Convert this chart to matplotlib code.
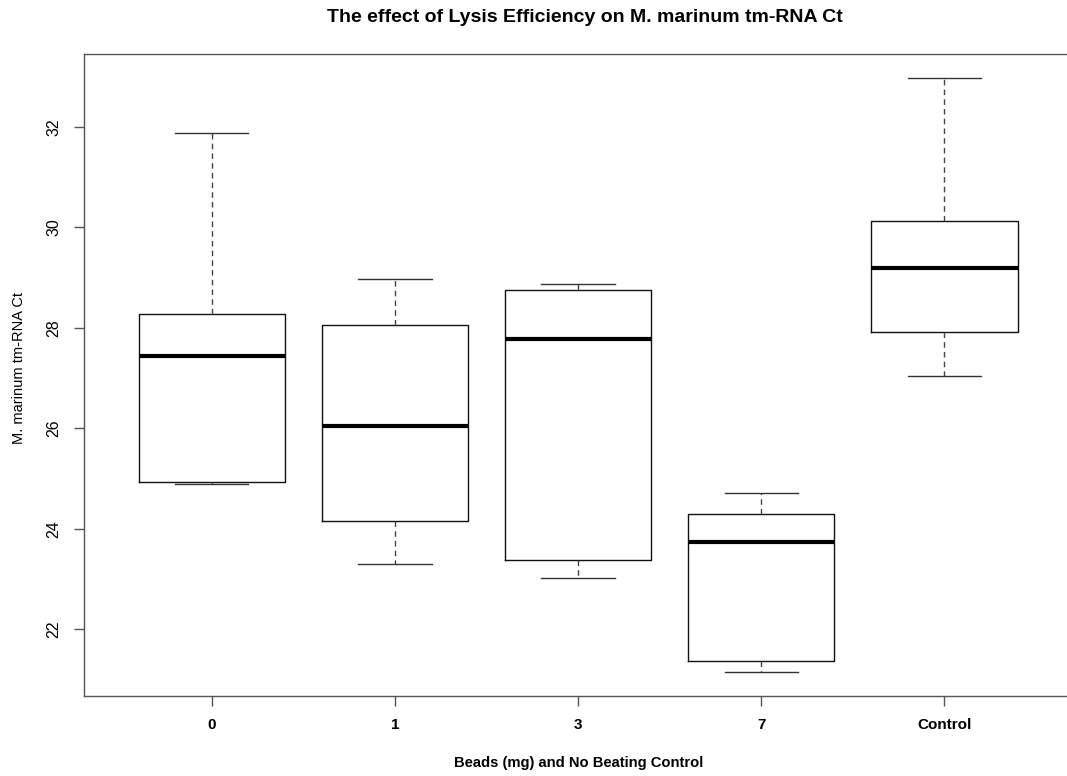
import matplotlib
matplotlib.use("Agg")
import matplotlib.pyplot as plt

categories = ["0", "1", "3", "7", "Control"]
whislo = [24.89, 23.30, 23.02, 21.15, 27.04]
q1 = [24.93, 24.15, 23.38, 21.37, 27.91]
med = [27.44, 26.05, 27.77, 23.74, 29.20]
q3 = [28.28, 28.06, 28.75, 24.29, 30.13]
whishi = [31.88, 28.98, 28.88, 24.70, 32.98]
yticks = [22, 24, 26, 28, 30, 32]

plt.rcParams['font.family'] = ['Liberation Sans', 'DejaVu Sans']

W, H = 1067, 776
fig = plt.figure(figsize=(W / 100, H / 100), dpi=100)
left, right, top, bottom = 83.7, 1072.5, 54.0, 695.5
ax = fig.add_axes([left / W, (H - bottom) / H, (right - left) / W, (bottom - top) / H])

stats = []
for i, c in enumerate(categories):
    stats.append(dict(label=c, whislo=whislo[i], q1=q1[i], med=med[i],
                      q3=q3[i], whishi=whishi[i], fliers=[]))

pos = list(range(1, len(categories) + 1))
ax.bxp(stats, positions=pos, widths=0.8, capwidths=0.4, showfliers=False,
       boxprops=dict(color='#111111', linewidth=1.0),
       medianprops=dict(color='black', linewidth=3.0, solid_capstyle='butt'),
       whiskerprops=dict(color='#444444', linewidth=1.0, linestyle=(0, (4, 3))),
       capprops=dict(color='#333333', linewidth=1.0))

lo, hi = min(whislo), max(whishi)
ext = 0.04 * (hi - lo)
ax.set_ylim(lo - ext, hi + ext)
ax.set_xlim(0.5 - 0.04 * 5, 5.5 + 0.04 * 5)

ax.set_yticks(yticks)
ax.set_yticklabels([str(t) for t in yticks], rotation=90, va='center', fontsize=11.5)
ax.set_xticks(pos)
ax.set_xticklabels(categories, fontsize=11, fontweight='bold')
ax.tick_params(axis='y', direction='out', length=7, width=1, color='#555555', pad=9)
ax.tick_params(axis='x', direction='out', length=7, width=1, color='#555555', pad=9)
for s in ax.spines.values():
    s.set_color('#555555')
    s.set_linewidth(1.0)

fig.text(585 / W, 1 - 17 / H, "The effect of Lysis Efficiency on M. marinum tm-RNA Ct",
         ha='center', va='center', fontsize=14, fontweight='bold')
fig.text(579 / W, 1 - 763 / H, "Beads (mg) and No Beating Control",
         ha='center', va='center', fontsize=10.6, fontweight='bold')
fig.text(19 / W, 1 - 368 / H, "M. marinum tm-RNA Ct",
         ha='center', va='center', fontsize=10.5, rotation=90)

fig.savefig("out.png", dpi=100)
